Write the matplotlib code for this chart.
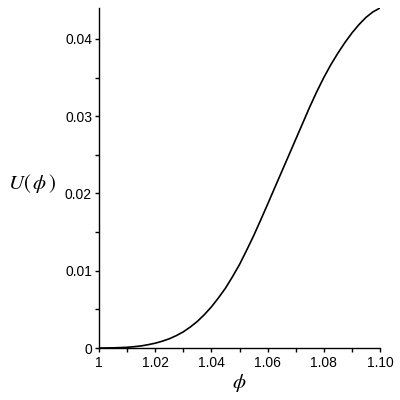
import numpy as np
import matplotlib.pyplot as plt

plt.rcParams['mathtext.fontset'] = 'stix'

# values (phi step 0.0025)
phi = [1.0000, 1.0025, 1.0050, 1.0075, 1.0100, 1.0125, 1.0150, 1.0175,
       1.0200, 1.0225, 1.0250, 1.0275, 1.0300, 1.0325, 1.0350, 1.0375,
       1.0400, 1.0425, 1.0450, 1.0475, 1.0500, 1.0525, 1.0550, 1.0575,
       1.0600, 1.0625, 1.0650, 1.0675, 1.0700, 1.0725, 1.0750, 1.0775,
       1.0800, 1.0825, 1.0850, 1.0875, 1.0900, 1.0925, 1.0950, 1.0975,
       1.1000]
U = [0.0, 0.000005, 0.00002, 0.00005, 0.00009, 0.00017, 0.00027, 0.00043,
     0.00062, 0.00088, 0.00119, 0.00160, 0.00209, 0.00272, 0.00344, 0.00432,
     0.00532, 0.00648, 0.00774, 0.00922, 0.01080, 0.01262, 0.01450, 0.01653,
     0.01860, 0.02071, 0.02280, 0.02490, 0.02700, 0.02910, 0.03120, 0.03317,
     0.03500, 0.03666, 0.03815, 0.03952, 0.04076, 0.04185, 0.04278, 0.04350,
     0.04400]

xticks = [1.00, 1.02, 1.04, 1.06, 1.08, 1.10]
xticklabels = ['1', '1.02', '1.04', '1.06', '1.08', '1.10']
yticks = [0, 0.01, 0.02, 0.03, 0.04]
yticklabels = ['0', '0.01', '0.02', '0.03', '0.04']

fig = plt.figure(figsize=(4, 4), dpi=100)
ax = fig.add_axes([0.2475, 0.13, 0.7025, 0.85])

ax.plot(phi, U, color='black', linewidth=1.2)

ax.set_xlim(1.0, 1.10)
ax.set_ylim(0, 0.0440)

ax.spines['top'].set_visible(False)
ax.spines['right'].set_visible(False)
ax.spines['left'].set_linewidth(1.0)
ax.spines['bottom'].set_linewidth(1.0)

ax.set_xticks(xticks)
ax.set_xticklabels(xticklabels)
ax.set_xticks([1.01, 1.03, 1.05, 1.07, 1.09], minor=True)
ax.set_yticks(yticks)
ax.set_yticklabels(yticklabels)
ax.set_yticks([0.005, 0.015, 0.025, 0.035], minor=True)

for lab in ax.get_xticklabels() + ax.get_yticklabels():
    lab.set_family('Liberation Sans')
ax.tick_params(which='both', direction='out', length=3, width=1.0,
               labelsize=10, colors='black')
ax.tick_params(axis='x', pad=3)
ax.tick_params(axis='y', pad=2)

ax.text(-0.24, 0.485, r'$U(\,\phi\,)$', transform=ax.transAxes, fontsize=15,
        ha='center', va='center')
ax.text(0.50, -0.103, r'$\phi$', transform=ax.transAxes, fontsize=15,
        ha='center', va='center')

fig.savefig('out.png', dpi=100)
